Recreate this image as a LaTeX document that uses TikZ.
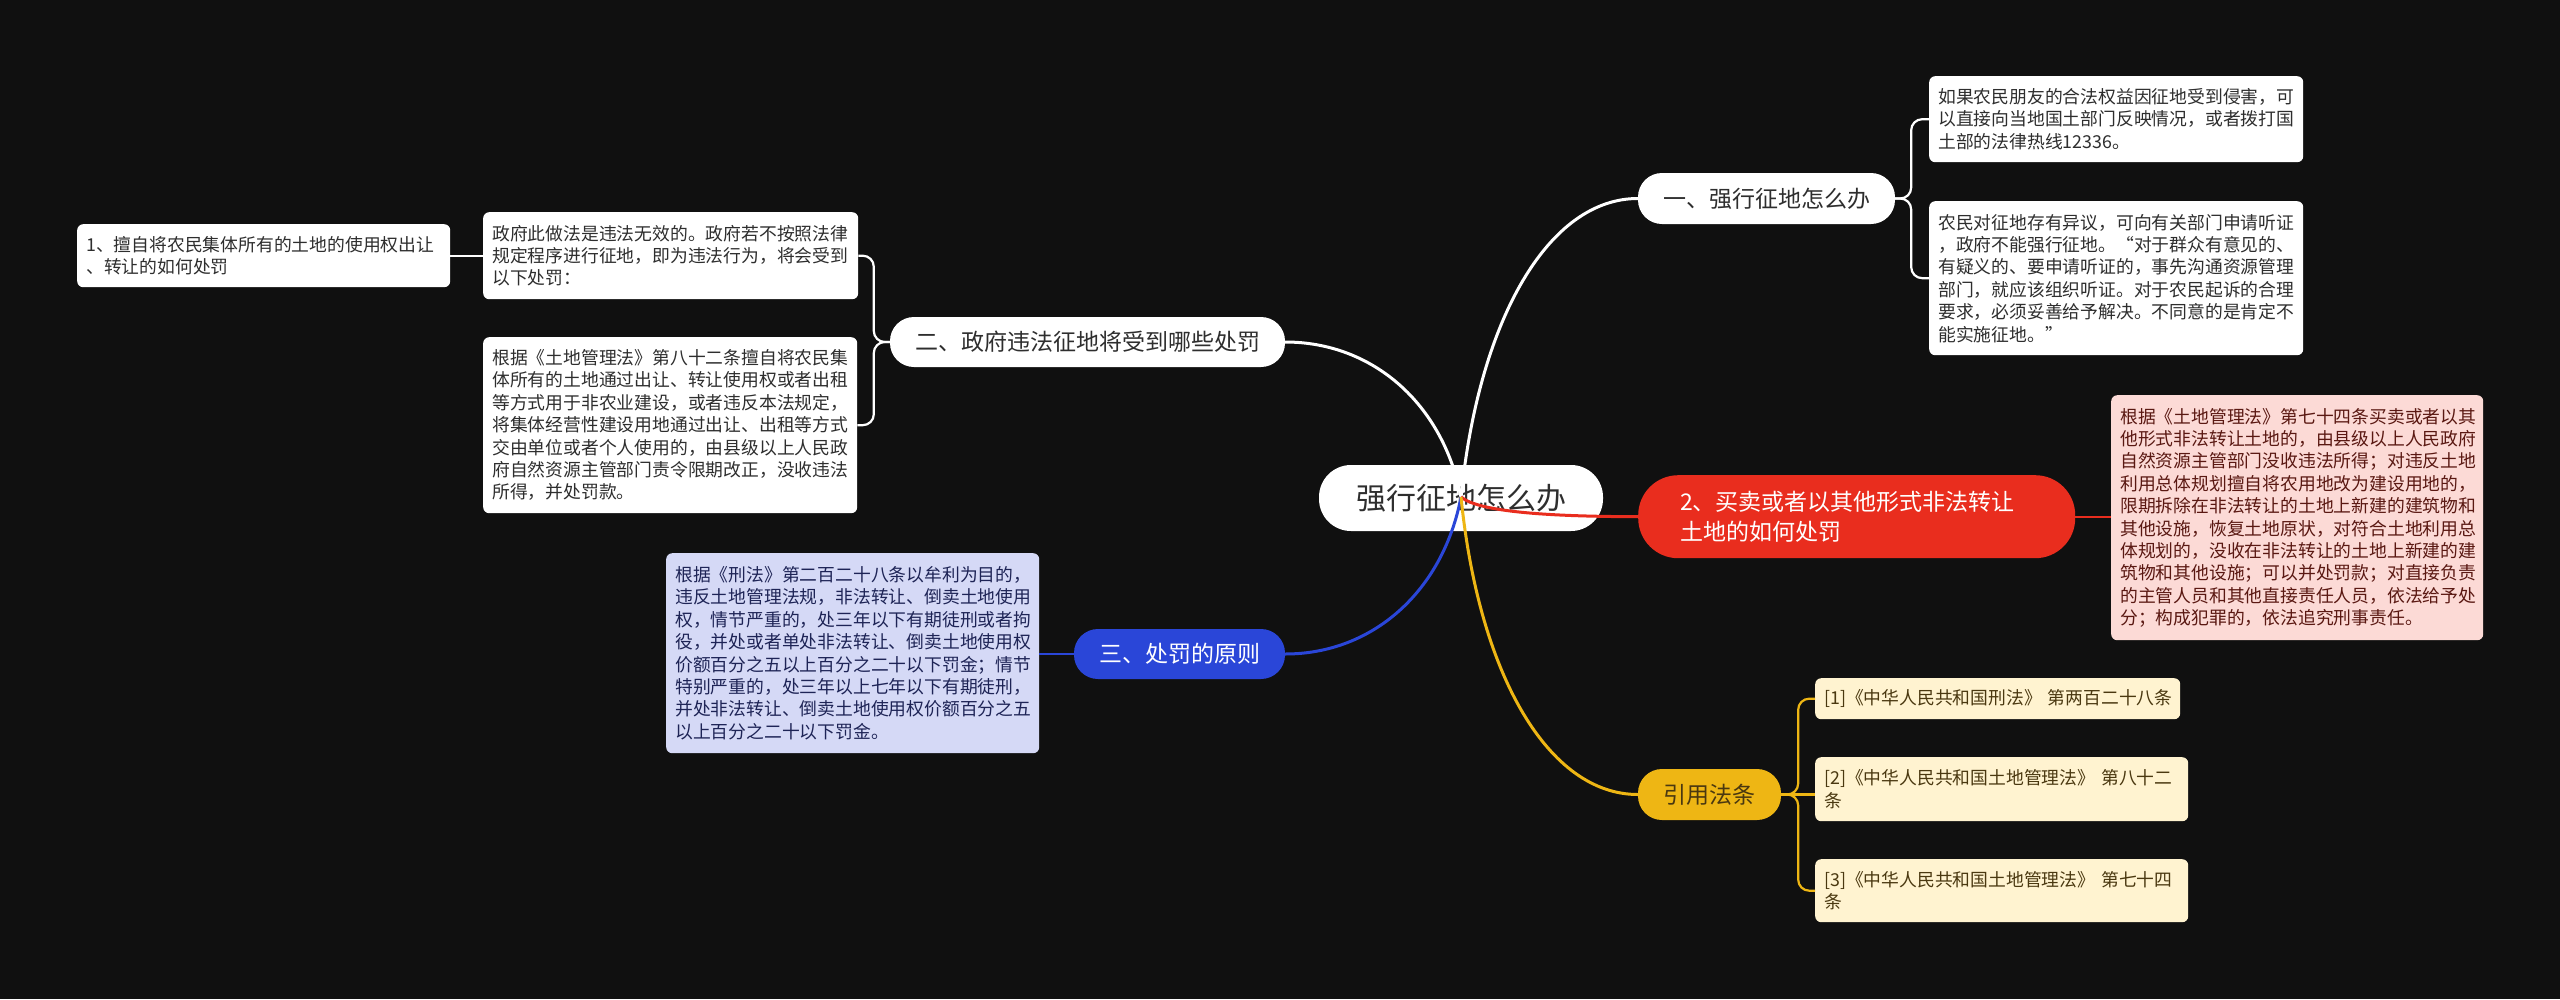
\documentclass[tikz,border=0pt]{standalone}
\usepackage{fontspec}
\setmainfont{Noto Sans CJK SC}
\definecolor{bg}{HTML}{101010}
\definecolor{txt}{HTML}{2E2E2E}
\definecolor{redc}{HTML}{E92D1E}
\definecolor{pinkf}{HTML}{FCDAD6}
\definecolor{pinkt}{HTML}{5A1812}
\definecolor{bluec}{HTML}{2A46D8}
\definecolor{bluef}{HTML}{D5D9F6}
\definecolor{bluet}{HTML}{1E2456}
\definecolor{yelc}{HTML}{EEB614}
\definecolor{yelf}{HTML}{FFF3D0}
\definecolor{yelt}{HTML}{4A3810}
\tikzset{
  leaf/.style={rounded corners=6pt, anchor=north west, inner xsep=9pt, inner ysep=0pt,
    align=left, font=\fontsize{17.8}{22.4}\selectfont},
  wleaf/.style={leaf, fill=white, text=txt},
  pleaf/.style={leaf, fill=pinkf, text=pinkt},
  bleaf/.style={leaf, fill=bluef, text=bluet},
  yleaf/.style={leaf, fill=yelf, text=yelt},
  pill/.style={inner sep=0pt, rounded corners=24pt, minimum height=50pt,
    font=\fontsize{23}{28}\selectfont},
  mainline/.style={line width=3pt},
  subline/.style={line width=2.2pt, rounded corners=11pt}
}
\begin{document}
\begin{tikzpicture}[x=1pt,y=-1pt]
\fill[bg] (0,0) rectangle (2560,999);
\useasboundingbox (0,0) rectangle (2560,999);

% root
\node[pill, fill=white, text=txt, minimum width=284pt, minimum height=66pt, rounded corners=32pt,
  font=\fontsize{30}{36}\selectfont] (root) at (1461,498) {强行征地怎么办};
\coordinate (o) at (1461,497);

% branch nodes
\node[pill, fill=white, text=txt, minimum width=257pt, minimum height=51pt] (n1) at (1766.5,198.5) {一、强行征地怎么办};
\node[pill, fill=redc, text=white, anchor=north west, minimum height=83pt, rounded corners=40pt,
  align=left, text width=353pt, inner xsep=42pt, font=\fontsize{23}{30}\selectfont] (n2) at (1638,475)
  {2、买卖或者以其他形式非法转让\\土地的如何处罚};
\node[pill, fill=white, text=txt, minimum width=395pt] (n3) at (1087.5,342) {二、政府违法征地将受到哪些处罚};
\node[pill, fill=bluec, text=white, minimum width=211pt] (n4) at (1179.5,654) {三、处罚的原则};
\node[pill, fill=yelc, text=yelt, minimum width=143pt, minimum height=51pt] (n5) at (1709.5,794.5) {引用法条};

% leaves
\node[wleaf, text width=356pt, minimum height=86pt] (a1) at (1929,76)
  {如果农民朋友的合法权益因征地受到侵害，可\\以直接向当地国土部门反映情况，或者拨打国\\土部的法律热线12336。};
\node[wleaf, text width=356pt, minimum height=154pt] (a2) at (1929,201)
  {农民对征地存有异议，可向有关部门申请听证\\，政府不能强行征地。“对于群众有意见的、\\有疑义的、要申请听证的，事先沟通资源管理\\部门，就应该组织听证。对于农民起诉的合理\\要求，必须妥善给予解决。不同意的是肯定不\\能实施征地。”};
\node[pleaf, text width=354pt, minimum height=245pt] (pk) at (2111,395)
  {根据《土地管理法》第七十四条买卖或者以其\\他形式非法转让土地的，由县级以上人民政府\\自然资源主管部门没收违法所得；对违反土地\\利用总体规划擅自将农用地改为建设用地的，\\限期拆除在非法转让的土地上新建的建筑物和\\其他设施，恢复土地原状，对符合土地利用总\\体规划的，没收在非法转让的土地上新建的建\\筑物和其他设施；可以并处罚款；对直接负责\\的主管人员和其他直接责任人员，依法给予处\\分；构成犯罪的，依法追究刑事责任。};
\node[wleaf, text width=357pt, minimum height=87pt] (b1) at (483,212)
  {政府此做法是违法无效的。政府若不按照法律\\规定程序进行征地，即为违法行为，将会受到\\以下处罚：};
\node[wleaf, text width=355pt, minimum height=63pt] (b11) at (77,224)
  {1、擅自将农民集体所有的土地的使用权出让\\、转让的如何处罚};
\node[wleaf, text width=356pt, minimum height=176pt] (b2) at (483,337)
  {根据《土地管理法》第八十二条擅自将农民集\\体所有的土地通过出让、转让使用权或者出租\\等方式用于非农业建设，或者违反本法规定，\\将集体经营性建设用地通过出让、出租等方式\\交由单位或者个人使用的，由县级以上人民政\\府自然资源主管部门责令限期改正，没收违法\\所得，并处罚款。};
\node[bleaf, text width=355pt, minimum height=200pt] (bl) at (666,553)
  {根据《刑法》第二百二十八条以牟利为目的，\\违反土地管理法规，非法转让、倒卖土地使用\\权，情节严重的，处三年以下有期徒刑或者拘\\役，并处或者单处非法转让、倒卖土地使用权\\价额百分之五以上百分之二十以下罚金；情节\\特别严重的，处三年以上七年以下有期徒刑，\\并处非法转让、倒卖土地使用权价额百分之五\\以上百分之二十以下罚金。};
\node[yleaf, text width=347pt, minimum height=41pt] (y1) at (1815,678)
  {\mbox{[1]《中华人民共和国刑法》 第两百二十八条}};
\node[yleaf, text width=355pt, minimum height=64pt] (y2) at (1815,757)
  {[2]《中华人民共和国土地管理法》~第八十二\\条};
\node[yleaf, text width=355pt, minimum height=63pt] (y3) at (1815,859)
  {[3]《中华人民共和国土地管理法》~第七十四\\条};

% main branches
\draw[mainline, white] (o) .. controls (1479,318) and (1549,198.5) .. (n1.west);
\draw[mainline, white] (o) .. controls (1443,404) and (1373,342) .. (n3.east);
\draw[mainline, redc] (o) .. controls (1479,512) and (1549,516.5) .. (n2.west);
\draw[mainline, bluec] (o) .. controls (1443,591) and (1373,654) .. (n4.east);
\draw[mainline, yelc] (o) .. controls (1479,676) and (1549,794.5) .. (n5.west);

% sub connectors
\draw[subline, white] (n1.east) -- ++(16,0) |- (a1.west);
\draw[subline, white] (n1.east) -- ++(16,0) |- (a2.west);
\draw[subline, white] (n3.west) -- ++(-16,0) |- (b1.east);
\draw[subline, white] (n3.west) -- ++(-16,0) |- (b2.east);
\draw[subline, white] (b1.west) -- (b1.west -| b11.east);
\draw[subline, redc] (n2.east) -- (n2.east -| pk.west);
\draw[subline, bluec] (n4.west) -- (n4.west -| bl.east);
\draw[subline, yelc] (n5.east) -- ++(17,0) |- (y1.west);
\draw[subline, yelc] (n5.east) -- (n5.east -| y2.west);
\draw[subline, yelc] (n5.east) -- ++(17,0) |- (y3.west);
\end{tikzpicture}
\end{document}
